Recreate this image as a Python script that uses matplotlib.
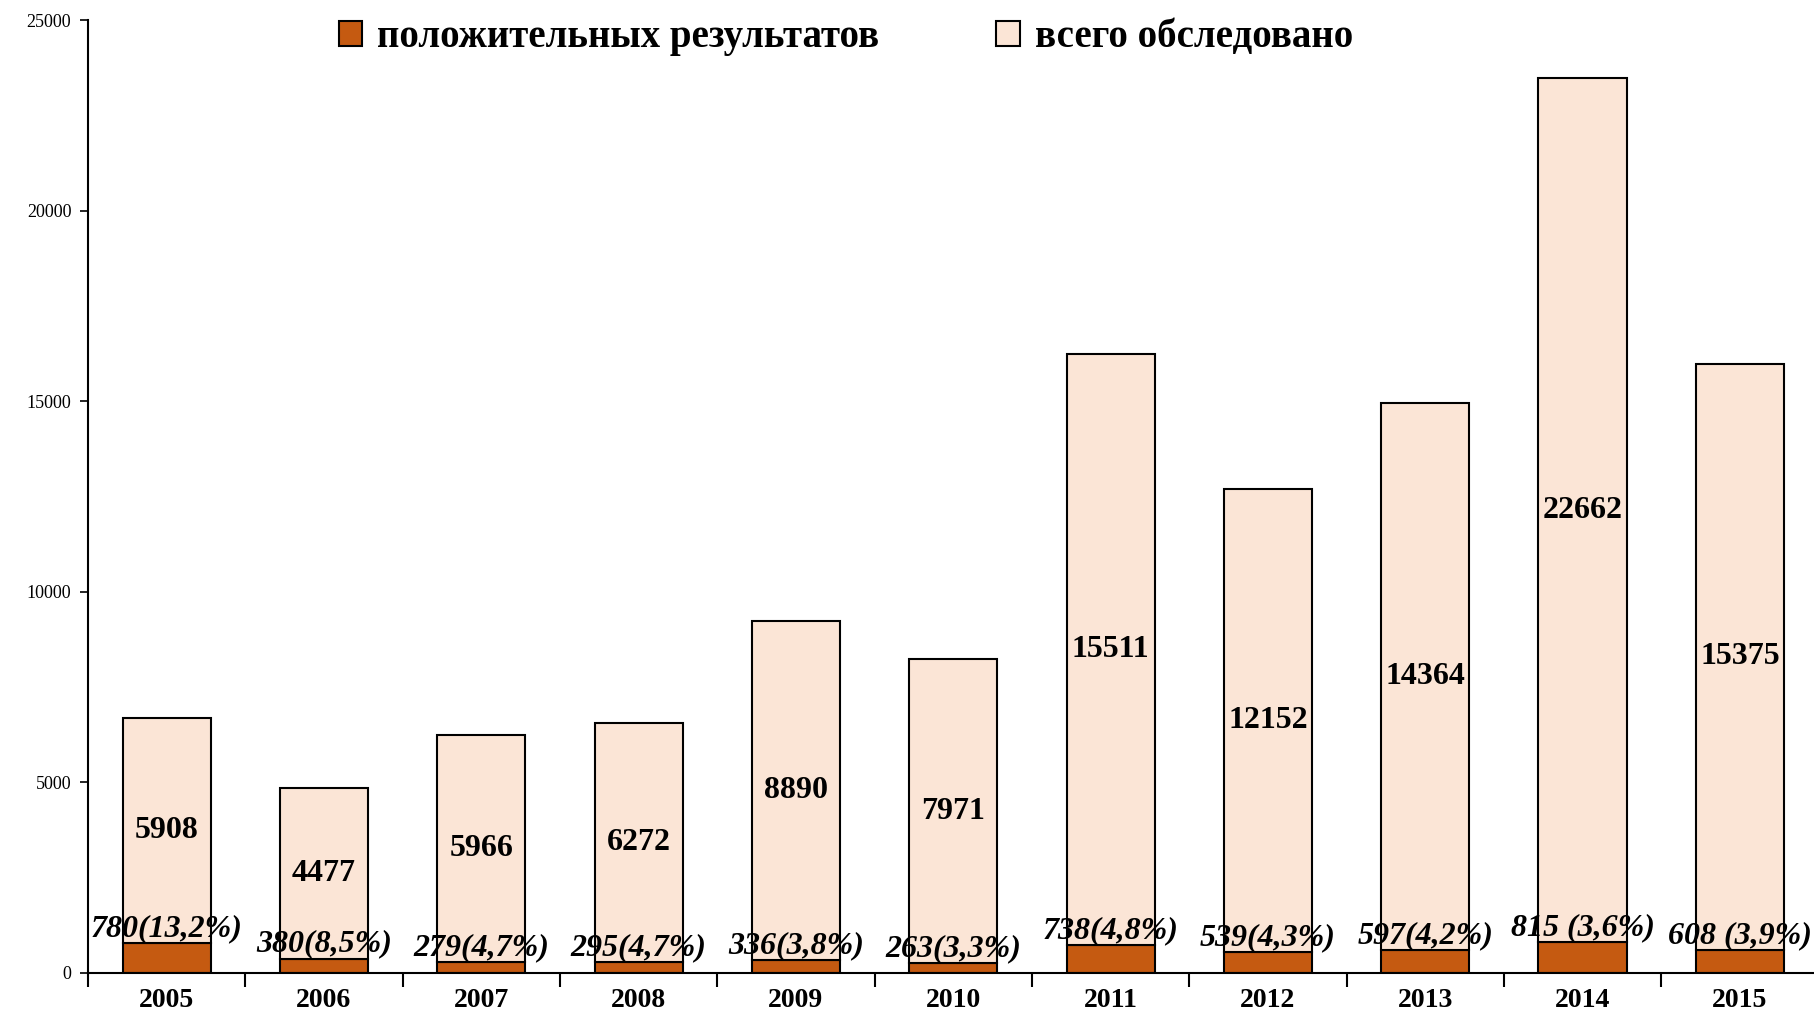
import matplotlib
matplotlib.use("Agg")
import matplotlib.pyplot as plt
import numpy as np

years = ['2005', '2006', '2007', '2008', '2009', '2010', '2011', '2012', '2013', '2014', '2015']
positive = [780, 380, 279, 295, 336, 263, 738, 539, 597, 815, 608]
examined = [5908, 4477, 5966, 6272, 8890, 7971, 15511, 12152, 14364, 22662, 15375]
pos_labels = ['780(13,2%)', '380(8,5%)', '279(4,7%)', '295(4,7%)', '336(3,8%)', '263(3,3%)',
              '738(4,8%)', '539(4,3%)', '597(4,2%)', '815 (3,6%)', '608 (3,9%)']

plt.rcParams['font.family'] = ['Liberation Serif', 'DejaVu Serif']

fig = plt.figure(figsize=(18.14, 10.13), dpi=100)
ax = fig.add_axes([0.0485, 0.0395, 0.954, 0.9405])

x = np.arange(len(years))
w = 0.56
ax.bar(x, positive, w, color='#C55A11', edgecolor='black', linewidth=1.5,
       label='положительных результатов', zorder=2)
ax.bar(x, examined, w, bottom=positive, color='#FBE5D6', edgecolor='black',
       linewidth=1.5, label='всего обследовано', zorder=2)

for i in range(len(years)):
    # total examined - middle of upper segment
    ax.text(x[i], positive[i] + examined[i] / 2.0, str(examined[i]), ha='center', va='center',
            fontsize=23, fontweight='bold', zorder=3)
    # positive results just above the lower segment
    ax.annotate(pos_labels[i], (x[i], positive[i]), xytext=(0, 0), textcoords='offset points',
                ha='center', va='bottom', fontsize=23, fontweight='bold', fontstyle='italic', zorder=3)

ax.set_xlim(-0.5, len(years) - 0.5)
ax.set_ylim(0, 25000)
ax.set_yticks([0, 5000, 10000, 15000, 20000, 25000])
ax.tick_params(axis='y', labelsize=13, length=6, width=1.2, direction='out', pad=6)

ax.set_xticks(x)
ax.set_xticklabels(years, fontsize=20, fontweight='bold')
ax.set_xticks(np.arange(-0.5, len(years)), minor=True)
ax.tick_params(axis='x', which='major', length=0, pad=11)
ax.tick_params(axis='x', which='minor', length=10, width=1.5, direction='out')

for s in ['top', 'right']:
    ax.spines[s].set_visible(False)
for s in ['left', 'bottom']:
    ax.spines[s].set_linewidth(1.5)

ax.legend(ncol=2, loc='upper center', bbox_to_anchor=(0.438, 1.038), frameon=False,
          prop={'size': 28, 'weight': 'bold'}, handlelength=0.6, handleheight=0.6,
          handletextpad=0.4, columnspacing=3.0)

fig.savefig('out.png', dpi=100)
